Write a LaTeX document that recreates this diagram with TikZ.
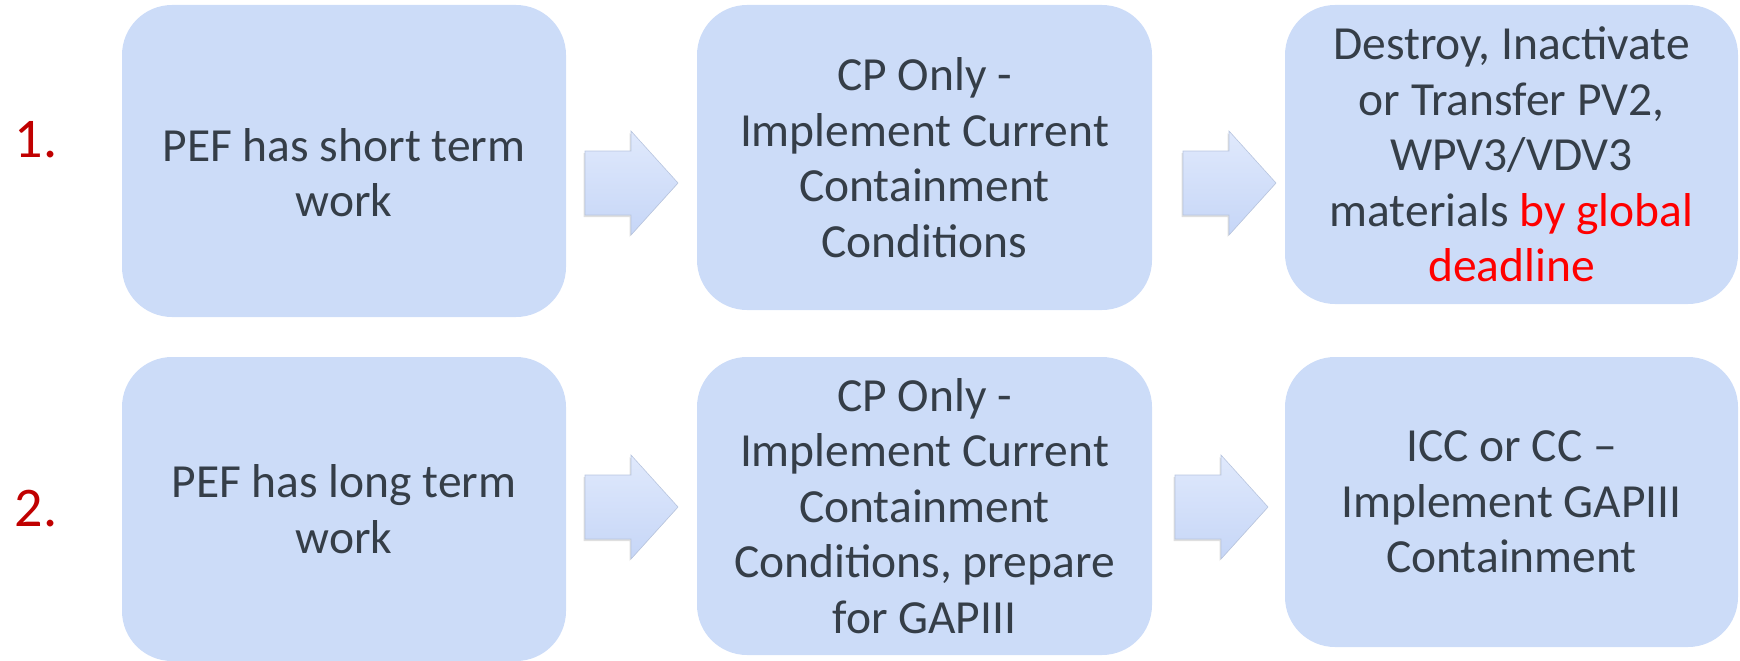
\documentclass[tikz,border=0pt]{standalone}
\usepackage{fontspec}
\setmainfont{Carlito}
\usepackage{tikz}
\usetikzlibrary{shadows}

\definecolor{boxblue}{HTML}{CCDCF8}
\definecolor{boxtext}{HTML}{353E48}
\definecolor{numred}{HTML}{C00000}
\definecolor{arrtop}{HTML}{E0E9FC}
\definecolor{arrbot}{HTML}{C6D6F7}

\begin{document}
\begin{tikzpicture}[
  x=1pt, y=-1pt,
  stepbox/.style={fill=boxblue, rounded corners=50pt, inner sep=0pt,
    align=center, text=boxtext, font=\fontsize{47.5}{55.5}\selectfont},
  rownum/.style={text=numred, font=\fontsize{56}{60}\selectfont},
  blockarrow/.style={top color=arrtop, bottom color=arrbot, draw=arrbot!80!gray,
    line width=0.6pt, drop shadow={shadow xshift=-1.5pt, shadow yshift=-2pt, opacity=0.25}}
]
  \useasboundingbox (0,0) rectangle (1740,661);

  % row numbers
  \node[rownum] (n1) at (36,140) {1.};
  \node[rownum] (n2) at (36,509) {2.};

  % first row
  \node[stepbox, minimum width=444pt, minimum height=312pt] (a1) at (344,161)
    {\rule{0pt}{56pt}PEF has short term\\work};
  \node[stepbox, minimum width=455pt, minimum height=305pt] (b1) at (924.5,157.5)
    {CP Only -\\Implement Current\\Containment\\Conditions};
  \node[stepbox, minimum width=453pt, minimum height=299pt] (c1) at (1511.5,154.5)
    {Destroy, Inactivate\\or Transfer PV2,\\WPV3/VDV3\\materials \textcolor{red}{by global}\\\textcolor{red}{deadline}};

  % second row
  \node[stepbox, minimum width=444pt, minimum height=304pt] (a2) at (344,509)
    {PEF has long term\\work};
  \node[stepbox, minimum width=455pt, minimum height=298pt] (b2) at (924.5,506)
    {CP Only -\\Implement Current\\Containment\\Conditions, prepare\\for GAPIII};
  \node[stepbox, minimum width=453pt, minimum height=290pt] (c2) at (1511.5,502)
    {ICC or CC --\\Implement GAPIII\\Containment};

  % block arrows
  \foreach \ax/\ay in {585/183, 1183/183, 585/507, 1175/507}
    \path[blockarrow] (\ax,\ay-32) -- ++(46,0) -- ++(0,-20) -- ++(47,52)
      -- ++(-47,52) -- ++(0,-20) -- ++(-46,0) -- cycle;

\end{tikzpicture}
\end{document}
